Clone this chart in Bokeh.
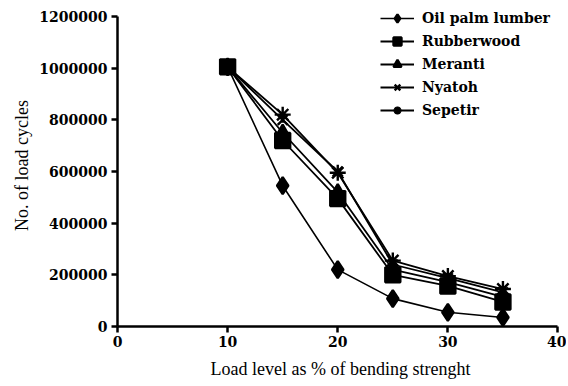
from bokeh.plotting import figure
from bokeh.models import Range1d, Legend, LegendItem, BasicTickFormatter, FixedTicker
from bokeh.embed import file_html
from bokeh.resources import INLINE

load_level = [10, 15, 20, 25, 30, 35]
oil_palm = [1005000, 545000, 220000, 108000, 55000, 35000]
rubberwood = [1005000, 720000, 495000, 200000, 157000, 95000]
meranti = [1005000, 750000, 520000, 220000, 172000, 115000]
nyatoh = [1005000, 800000, 600000, 240000, 187000, 132000]
sepetir = [1005000, 820000, 595000, 255000, 195000, 145000]

x_ticks = [0, 10, 20, 30, 40]
y_ticks = [0, 200000, 400000, 600000, 800000, 1000000, 1200000]

TICK_FONT = "DejaVu Serif"
TITLE_FONT = "Liberation Serif"

p = figure(width=566, height=382, output_backend="svg", toolbar_location=None,
           x_range=Range1d(0, 40.5), y_range=Range1d(0, 1246450),
           min_border_left=117, min_border_top=4, min_border_right=3, min_border_bottom=56)
p.outline_line_color = None
p.xgrid.visible = False
p.ygrid.visible = False
p.background_fill_color = "white"
p.border_fill_color = "white"

for ax in (p.xaxis[0], p.yaxis[0]):
    ax.axis_line_width = 2.5
    ax.axis_line_color = "black"
    ax.major_tick_line_width = 2.5
    ax.major_tick_in = 0
    ax.major_tick_out = 6
    ax.minor_tick_line_color = None
    ax.major_label_text_font = TICK_FONT
    ax.major_label_text_font_style = "bold"
    ax.major_label_text_font_size = "14px"
    ax.major_label_text_color = "black"
    ax.axis_label_text_font = TITLE_FONT
    ax.axis_label_text_font_style = "normal"
    ax.axis_label_text_font_size = "18px"
    ax.axis_label_text_color = "black"

p.xaxis.ticker = FixedTicker(ticks=x_ticks)
p.yaxis.ticker = FixedTicker(ticks=y_ticks)
p.xaxis.bounds = (0, 40)
p.yaxis.bounds = (0, 1200000)
p.yaxis.formatter = BasicTickFormatter(use_scientific=False)
p.xaxis.axis_label = "Load level as % of bending strenght"
p.yaxis.axis_label = "No. of load cycles"
p.xaxis.major_label_standoff = 3
p.yaxis.major_label_standoff = 4
p.xaxis.axis_label_standoff = 9
p.yaxis.axis_label_standoff = 4

series = [
    ("Sepetir", sepetir, "asterisk", 16),
    ("Nyatoh", nyatoh, "x", 14),
    ("Meranti", meranti, "triangle", 14),
    ("Oil palm lumber", oil_palm, "diamond", 17),
    ("Rubberwood", rubberwood, "square", 15),
]
items = {}
for name, ys, marker, size in series:
    lw = 1.6 if name == "Oil palm lumber" else 1.8
    r_line = p.line(load_level, ys, line_color="black", line_width=lw)
    r_mark = p.scatter(load_level, ys, marker=marker, size=size, fill_color="black",
                       line_color="black", line_width=2.4)
    items[name] = [r_line, r_mark]

order = ["Oil palm lumber", "Rubberwood", "Meranti", "Nyatoh", "Sepetir"]
legend = Legend(items=[LegendItem(label=n, renderers=items[n]) for n in order],
                location=(263, 206), orientation="vertical",
                glyph_width=34, glyph_height=20, spacing=3, padding=0, margin=0,
                label_standoff=8,
                label_text_font=TICK_FONT, label_text_font_style="bold",
                label_text_font_size="14px", label_text_color="black",
                border_line_color=None, background_fill_alpha=0)
p.add_layout(legend, "center")

open("out.html", "w").write(file_html(p, INLINE))
